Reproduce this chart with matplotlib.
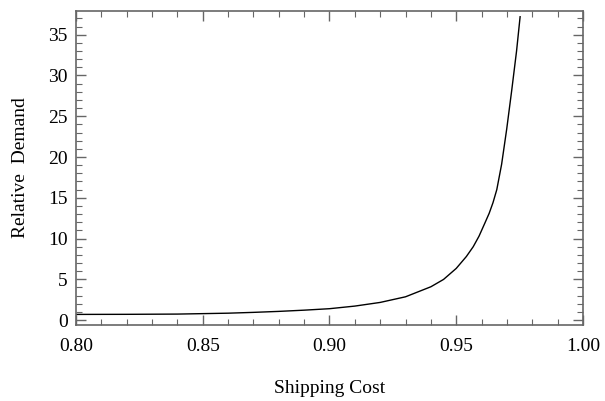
import numpy as np
import matplotlib
matplotlib.use('Agg')
import matplotlib.pyplot as plt
from matplotlib.ticker import MultipleLocator

# values
cost = [0.800, 0.820, 0.840, 0.860, 0.870, 0.880, 0.890, 0.900, 0.910,
        0.920, 0.930, 0.940, 0.945, 0.950, 0.9540, 0.9567, 0.9590, 0.9613,
        0.9630, 0.9645, 0.9660, 0.9679, 0.9699, 0.9719, 0.9738, 0.9752]
demand = [0.70, 0.71, 0.74, 0.85, 0.95, 1.07, 1.22, 1.40, 1.72,
          2.17, 2.86, 4.09, 4.99, 6.34, 7.8, 9.0, 10.3, 11.9,
          13.1, 14.4, 16.0, 19.1, 23.4, 28.2, 33.0, 37.2]

plt.rcParams['font.family'] = ['Liberation Serif', 'DejaVu Serif']

fig = plt.figure(figsize=(6.05, 4.01), dpi=100)
ax = fig.add_axes([0.1256, 0.1895, 0.838, 0.783])

ax.plot(cost, demand, color='black', lw=1.0)

ax.set_xlim(0.80, 1.00)
ax.set_ylim(-0.6, 37.9)
ax.xaxis.set_major_locator(MultipleLocator(0.05))
ax.xaxis.set_minor_locator(MultipleLocator(0.01))
ax.yaxis.set_major_locator(MultipleLocator(5))
ax.yaxis.set_minor_locator(MultipleLocator(1))
ax.xaxis.set_major_formatter(plt.FuncFormatter(lambda v, p: '%.2f' % v))

frame = '0.4'
for s in ax.spines.values():
    s.set_color(frame)
    s.set_linewidth(1.2)
ax.tick_params(which='both', direction='in', top=True, right=True,
               color=frame, labelsize=14)
ax.tick_params(which='major', length=7, width=1.0)
ax.tick_params(which='minor', length=4, width=0.8)
ax.tick_params(axis='x', pad=9)
ax.tick_params(axis='y', pad=6)

ax.set_xlabel('Shipping Cost', fontsize=14, labelpad=18)
ax.set_ylabel('Relative  Demand', fontsize=14, labelpad=14)

fig.savefig('out.png', dpi=100)
